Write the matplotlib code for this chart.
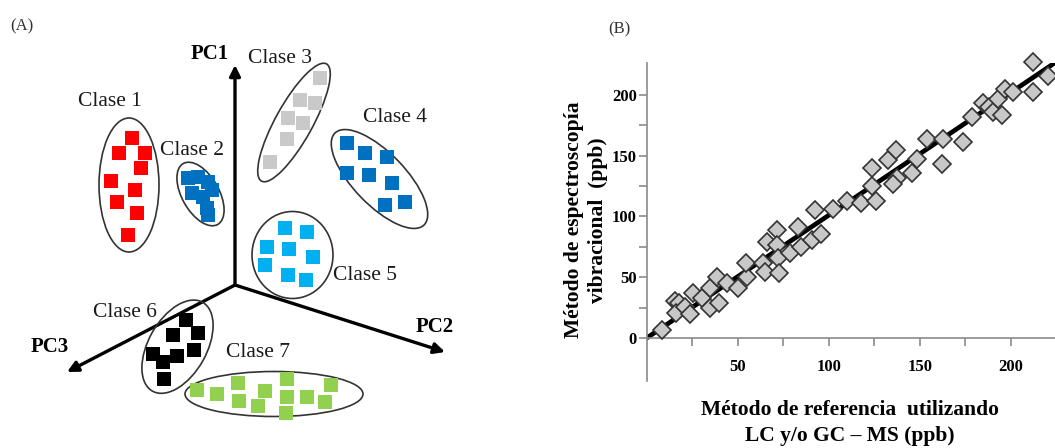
"""
(A) esquema PCA de clases  /  (B) espectroscopia vibracional vs método de referencia
"""

import matplotlib
matplotlib.use("Agg")
import matplotlib.pyplot as plt
from matplotlib.patches import Ellipse
import numpy as np

plt.rcParams['font.family'] = ['Liberation Serif', 'DejaVu Serif']

# ---- panel A: posiciones de las muestras (coordenadas del esquema) ----
clase_nombres = ["Clase 1", "Clase 2", "Clase 3", "Clase 4", "Clase 5", "Clase 6", "Clase 7"]
clase_colores = ["#ff0000", "#0070c0", "#c9c9c9", "#0070c0", "#00b0f0", "#000000", "#92d050"]

clase1_x = [131.7, 119.3, 145, 140.7, 111, 135, 116.7, 136.7, 127.7]
clase1_y = [138.3, 153.3, 152.7, 168.3, 181, 190, 201.7, 213.3, 235]
clase2_x = [188.3, 198.3, 208.3, 191.7, 203.3, 211.7, 206.7, 208.3]
clase2_y = [178.3, 176.7, 181.7, 193.3, 196.7, 190, 208.3, 215]
clase3_x = [320, 300, 315, 288.3, 303.3, 286.7, 270]
clase3_y = [78.3, 100, 103.3, 118.3, 123.3, 139.3, 161.7]
clase4_x = [346.7, 365, 386.7, 346.7, 369.3, 391.7, 385, 405]
clase4_y = [143.3, 152.7, 156.7, 173.3, 175, 182.7, 205, 201.7]
clase5_x = [285, 306.7, 266.7, 289.3, 312.7, 265, 288.3, 306]
clase5_y = [228.3, 231.7, 246.7, 249.3, 256.7, 265, 275, 280]
clase6_x = [186, 172.7, 198.3, 152.7, 176.7, 194.3, 163.3, 164.3]
clase6_y = [320, 335, 333.3, 354, 355.7, 350, 361.7, 379.3]
clase7_x = [196.7, 217.3, 238.3, 239.3, 265, 258.3, 286.7, 286.7, 286, 306.7, 325, 331]
clase7_y = [390, 394.3, 383.3, 400.7, 391, 406, 379.3, 396.7, 413.3, 397.3, 401.7, 385]

# elipses: centro x, centro y, ancho, alto, ángulo
elipse_cx = [129, 200.5, 294, 379.5, 292.5, 177.5, 274]
elipse_cy = [185, 194, 122.5, 179, 255, 346.7, 394]
elipse_w = [60, 70, 134, 128, 81, 102, 178]
elipse_h = [134, 37, 37, 52, 87, 58, 45]
elipse_ang = [0, 60.5, -61, 46, 0, -60.5, 0]

etiqueta_x = [110, 191.7, 280, 395, 365, 125, 258.3]
etiqueta_y = [101.7, 150.7, 58.3, 117.3, 276, 312.7, 352.7]

origen_pc = (235, 285)
pc_nombres = ["PC1", "PC2", "PC3"]
pc_punta_x = [235, 445, 67]
pc_punta_y = [65, 352, 372]
pc_etiqueta_x = [209.3, 434.3, 50]
pc_etiqueta_y = [54.3, 327.3, 346.7]

# ---- panel B: método de referencia vs espectroscopia ----
ref_ppb = [8.6, 15.5, 17.9, 16.1, 21, 23.8, 25.6, 30.2, 34.8, 34.8, 38.8, 39.9, 44.3,
           50.3, 55, 54.6, 63.7, 65, 66, 71.4, 71.4, 72.3, 72.9, 78.7, 83.3, 85, 90.7,
           92.5, 96, 102.5, 110, 118, 126, 123.6, 124, 132.7, 137, 137.4, 135.5, 145.6,
           148.7, 153.8, 162, 163, 173.6, 178.6, 185, 188, 190.4, 195, 193, 197, 201,
           212, 212, 220.7]
vib_ppb = [6.6, 30.5, 28.5, 20.3, 25.8, 19.8, 37.3, 32.7, 25, 41, 50, 29, 45,
           41, 50, 61.5, 62, 54.6, 79, 89, 76.5, 65.6, 53.8, 69.7, 91.6, 75, 80.6,
           105, 86, 106, 113, 111, 112.7, 125, 139.6, 146.5, 154.7, 132, 127, 135.5,
           147, 163.5, 143, 163.5, 161.6, 182, 193.7, 190, 186, 183.5, 197, 204.7, 202.7,
           227, 202.7, 216]
ajuste_pendiente = 1.01
ajuste_intercepto = 0.0
ajuste_rango = [0, 230]

fig = plt.figure(figsize=(10.55, 4.48), dpi=100)

# ---------------- panel A ----------------
axA = fig.add_axes([0, 0, 460 / 1055, 1])
axA.set_xlim(0, 460)
axA.set_ylim(448, 0)
axA.axis("off")

for i in range(3):
    axA.annotate("", xy=(pc_punta_x[i], pc_punta_y[i]), xytext=origen_pc,
                 arrowprops=dict(arrowstyle="-|>", lw=2.4, color="black",
                                 mutation_scale=16, shrinkA=0, shrinkB=0))
    axA.text(pc_etiqueta_x[i], pc_etiqueta_y[i], pc_nombres[i], fontsize=15,
             fontweight="bold", ha="center", va="center")

clases_x = [clase1_x, clase2_x, clase3_x, clase4_x, clase5_x, clase6_x, clase7_x]
clases_y = [clase1_y, clase2_y, clase3_y, clase4_y, clase5_y, clase6_y, clase7_y]
for i in range(7):
    e = Ellipse((elipse_cx[i], elipse_cy[i]), elipse_w[i], elipse_h[i], angle=elipse_ang[i],
                facecolor="none", edgecolor="#333333", lw=1.2, zorder=3)
    axA.add_patch(e)
    axA.plot(clases_x[i], clases_y[i], "s", color=clase_colores[i], ms=9.6,
             markeredgewidth=0, zorder=4)
    axA.text(etiqueta_x[i], etiqueta_y[i], clase_nombres[i], fontsize=15.5,
             color="#1a1a1a", ha="center", va="center", zorder=5)

# ---------------- panel B ----------------
x0_px, y0_px = 646.7, 338
px_x, px_y = 1.82, 1.215
xlim_b = (0, 230)
ylim_b = (-35, 226)
left = x0_px / 1055
width = (xlim_b[1] - xlim_b[0]) * px_x / 1055
bottom = (448 - (y0_px - ylim_b[0] * px_y)) / 448
height = (ylim_b[1] - ylim_b[0]) * px_y / 448
axB = fig.add_axes([left, bottom, width, height])
axB.set_xlim(*xlim_b)
axB.set_ylim(*ylim_b)

axB.spines["top"].set_visible(False)
axB.spines["right"].set_visible(False)
axB.spines["bottom"].set_position(("data", 0))
for s in ["left", "bottom"]:
    axB.spines[s].set_color("#8a8a8a")
    axB.spines[s].set_linewidth(1.2)

axB.set_xticks([50, 100, 150, 200])
axB.set_xticks([25, 75, 125, 175], minor=True)
axB.set_yticks([0, 50, 100, 150, 200])
axB.set_yticks([25, 75, 125, 175], minor=True)
axB.tick_params(axis="both", which="both", color="#8a8a8a", width=1.2, length=6, direction="out")
axB.tick_params(axis="x", which="major", pad=9)
axB.tick_params(axis="y", which="major", pad=1)
for lab in axB.get_xticklabels() + axB.get_yticklabels():
    lab.set_fontweight("bold")
    lab.set_fontsize(12)

xs = np.array(ajuste_rango)
axB.plot(xs, ajuste_pendiente * xs + ajuste_intercepto, color="black", lw=3.4, zorder=2,
         clip_on=True)
axB.plot(ref_ppb, vib_ppb, "D", ms=9, markerfacecolor="#c8c8c8", markeredgecolor="#333333",
         markeredgewidth=1.2, zorder=3, clip_on=False)

fig.text(586 / 1055, (448 - 220) / 448, "Método de espectroscopía\nvibracional  (ppb)",
         rotation=90, ha="center", va="center", fontsize=15.5, fontweight="bold",
         linespacing=1.25)
fig.text(850 / 1055, (448 - 423) / 448, "Método de referencia  utilizando\nLC y/o GC – MS (ppb)",
         ha="center", va="center", fontsize=15.5, fontweight="bold", linespacing=1.35)

fig.text(10 / 1055, (448 - 26.5) / 448, "(A)", fontsize=12, va="center", color="#333333")
fig.text(608 / 1055, (448 - 29.5) / 448, "(B)", fontsize=12, va="center", color="#333333")

fig.savefig("out.png", dpi=100)
